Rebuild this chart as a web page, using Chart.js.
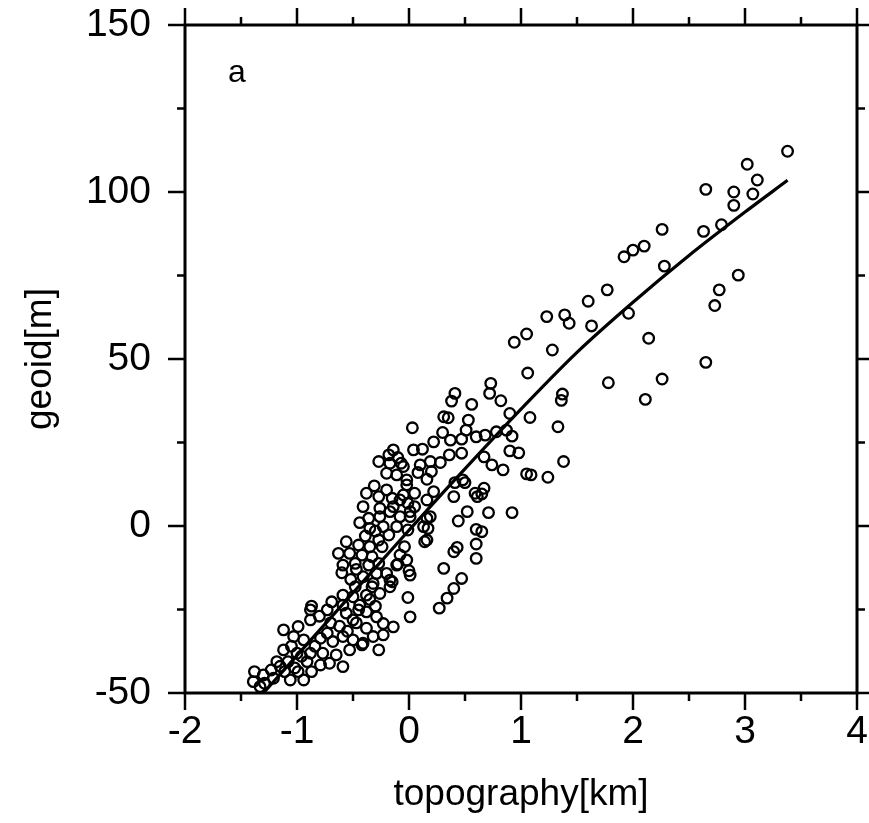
<!DOCTYPE html>
<html>
<head>
<meta charset="utf-8">
<script src="https://cdn.jsdelivr.net/npm/chart.js@4.4.1/dist/chart.umd.min.js"></script>
<style>
  html, body { margin: 0; padding: 0; background: #fff; }
  canvas { display: block; }
</style>
</head>
<body>
<canvas id="chart" width="869" height="823"></canvas>
<script>
// observed points: topography [km] vs geoid [m]
const topo = [
  3.38, 3.02, 3.11, 2.65, 2.90, 3.07, 2.90, 2.79, 2.63, 2.26, 2.10, 2.00, 1.92, 2.28, 1.77, 1.60,
  1.23, 1.39, 1.43, 1.63, 1.96, 2.94, 2.77, 2.73, 1.28, 2.14, 2.65, 1.78, 2.26, 2.11, 1.37, 1.36,
  1.05, 0.94, 1.06, 0.73, 0.72, 0.82, 0.56, 0.90, 1.08, 1.33, 0.53, 0.87, 0.92, 0.51, 0.68, 0.90,
  0.98, 0.67, 1.38, 0.84, 1.05, 1.09, 1.24, 0.48, 0.67, 0.59, 0.40, 0.65, 0.61, 0.52, 0.44, 0.71,
  0.92, 0.60, 0.60, 0.60, 0.43, 0.40, 0.31, 0.47, 0.40, 0.34, 0.27, 0.14, 0.17, 0.01, -0.01, 0.01,
  -0.02, 0.00, -0.10, 0.41, 0.38, 0.31, 0.35, 0.03, 0.04, 0.22, 0.37, 0.47, 0.36, 0.47, 0.10, -0.05,
  0.19, -0.02, 0.16, 0.41, 0.50, 0.05, 0.22, -0.01, 0.01, 0.19, -0.01, 0.16, -0.04, -0.14, -0.18, -0.07,
  -0.17, -0.27, -0.20, -0.11, 0.20, -0.38, -0.27, -0.15, -0.05, 0.16, -0.41, -0.26, -0.14, 0.05, -0.20, -0.08,
  -0.02, -0.36, -0.26, -0.17, -0.08, 0.01, -0.35, -0.23, -0.11, -0.18, -0.56, -0.45, -0.35, -0.24, -0.63, -0.53,
  -0.42, -0.33, -0.27, -0.59, -0.48, -0.36, -0.27, -0.08, -0.11, -0.41, -0.29, -0.17, -0.48, -0.33, -0.17, -0.59,
  -0.50, -0.38, -0.26, -0.87, -0.69, -0.59, -0.44, -0.88, -0.88, -0.73, -0.56, -0.45, -0.50, -0.38, -1.03, -0.94,
  -0.79, -0.73, -0.68, -0.59, -0.50, -0.41, -1.12, -1.00, -0.88, -0.77, -0.65, -0.53, -1.18, -1.08, -0.91, -0.79,
  -0.71, -0.59, -1.23, -1.11, -0.99, -0.87, -1.38, -1.30, -1.39, -1.29, -1.21, -1.06, -0.94, -1.33, -1.12, -0.99,
  -0.32, -0.20, -0.15, -0.29, -0.23, -0.14, -0.38, -0.32, -0.23, -0.42, -0.27, 0.16, 0.13, 0.60, 0.78, 0.74,
  0.65, -1.15, -1.02, -0.96, -0.84, -1.05, -0.62, -0.70, -0.80, -0.47, -0.55, -0.35, -0.30, -0.52, -0.60, -0.47,
  -0.39, -0.30, -0.44, -0.31, -0.10, 0.08, 0.28, 0.30, 0.12
];
const geoid = [
  112.2, 108.3, 103.6, 100.8, 100.0, 99.4, 96.0, 90.2, 88.2, 88.8, 83.8, 82.6, 80.6, 77.8, 70.7, 67.3,
  62.7, 63.2, 60.7, 59.9, 63.7, 75.1, 70.7, 66.0, 52.7, 56.2, 49.0, 42.9, 44.0, 37.9, 39.5, 37.6,
  57.5, 55.0, 45.8, 42.7, 39.7, 37.5, 36.4, 33.7, 32.5, 29.7, 31.7, 28.7, 26.9, 28.7, 27.2, 22.5,
  21.9, 20.7, 19.3, 16.8, 15.6, 15.3, 14.6, 13.8, 11.3, 9.8, 8.8, 9.6, 8.8, 4.3, 1.5, 4.0,
  4.0, -1.0, -5.4, -9.7, -6.4, -7.7, -12.7, -15.7, -18.7, -21.6, -24.6, -4.7, -0.7, -14.7, -21.4, -27.2,
  -10.2, -13.4, -11.4, 39.7, 37.4, 32.7, 32.4, 29.4, 22.8, 25.2, 25.7, 26.0, 21.3, 21.8, 18.3, 17.8,
  19.3, 13.8, 14.0, 13.0, 13.0, 9.8, 10.3, 6.8, 2.8, 2.8, -1.2, -4.2, -6.2, 22.8, 21.3, 18.8,
  18.8, 19.3, 15.8, 15.3, 16.3, 9.8, 8.8, 8.3, 9.3, 7.8, 5.8, 5.3, 5.8, 5.8, 10.8, 7.8,
  12.3, 2.3, 2.8, 4.3, 2.8, 4.3, -0.7, -0.2, -0.2, -2.7, -4.7, -5.7, -6.2, -6.2, -8.2, -8.2,
  -8.7, -9.2, -4.2, -11.7, -11.2, -11.7, -11.2, -8.7, -11.7, -15.2, -14.2, -16.2, -18.2, -18.2, -18.2, -20.7,
  -21.2, -20.7, -20.2, -24.0, -22.7, -23.7, -23.7, -25.1, -28.1, -25.1, -26.1, -25.1, -28.1, -25.7, -33.1, -34.1,
  -33.6, -32.1, -34.6, -33.1, -34.1, -35.1, -37.1, -38.1, -38.1, -38.1, -38.6, -37.1, -40.6, -40.6, -40.6, -41.6,
  -41.1, -42.1, -43.1, -43.6, -43.6, -43.6, -43.6, -44.6, -46.6, -47.1, -45.6, -46.1, -46.1, -48.1, -31.1, -30.1,
  -17.2, -14.2, -16.7, -27.2, -29.2, -30.2, -30.6, -33.1, -32.6, -35.6, -37.1, 2.3, -0.2, 26.7, 28.2, 18.3,
  -1.7, -42.0, -42.5, -39.0, -36.0, -36.0, -30.0, -29.0, -27.0, -29.0, -31.5, -22.0, -24.0, -16.0, -14.0, -13.0,
  -3.0, -1.5, 1.0, 12.0, 20.5, 16.0, 19.0, 28.0, 23.0
];

// fitted curve
const fitTopo = [-1.3, -0.9, -0.5, -0.1, 0.4, 1.0, 1.5, 2.0, 2.5, 3.0, 3.38];
const fitGeoid = [-50, -35, -20, -5, 13.5, 35, 52, 67, 81, 94, 103.5];

const xTicks = [-2, -1, 0, 1, 2, 3, 4];
const yTicks = [-50, 0, 50, 100, 150];

const FONT = "'Liberation Sans', Arial, Helvetica, sans-serif";

const points = topo.map((t, i) => ({ x: t, y: geoid[i] }));
const fit = fitTopo.map((t, i) => ({ x: t, y: fitGeoid[i] }));

// GMT style frame with major and minor ticks on all four sides
const frame = {
  id: 'frame',
  afterDraw(chart) {
    const { ctx, chartArea: a, scales: { x, y } } = chart;
    const major = 17, minor = 8;
    ctx.save();
    ctx.strokeStyle = '#000';
    ctx.lineCap = 'butt';
    ctx.lineWidth = 3;
    ctx.strokeRect(a.left, a.top, a.right - a.left, a.bottom - a.top);

    ctx.lineWidth = 2.5;
    const xs = [];
    for (let i = 0; i < xTicks.length; i++) {
      xs.push([xTicks[i], major]);
      if (i < xTicks.length - 1) xs.push([(xTicks[i] + xTicks[i + 1]) / 2, minor]);
    }
    const ys = [];
    for (let i = 0; i < yTicks.length; i++) {
      ys.push([yTicks[i], major]);
      if (i < yTicks.length - 1) ys.push([(yTicks[i] + yTicks[i + 1]) / 2, minor]);
    }
    ctx.beginPath();
    xs.forEach(([v, len]) => {
      const px = x.getPixelForValue(v);
      ctx.moveTo(px, a.bottom); ctx.lineTo(px, a.bottom + len);
      ctx.moveTo(px, a.top); ctx.lineTo(px, a.top - len);
    });
    ys.forEach(([v, len]) => {
      const py = y.getPixelForValue(v);
      ctx.moveTo(a.left, py); ctx.lineTo(a.left - len, py);
      ctx.moveTo(a.right, py); ctx.lineTo(a.right + len, py);
    });
    ctx.stroke();

    // panel letter
    ctx.fillStyle = '#000';
    ctx.font = '32px ' + FONT;
    ctx.textAlign = 'left';
    ctx.textBaseline = 'alphabetic';
    ctx.fillText('a', a.left + 43, a.top + 57);
    ctx.restore();
  }
};

new Chart(document.getElementById('chart'), {
  data: {
    datasets: [
      {
        type: 'scatter',
        data: points,
        pointStyle: 'circle',
        pointRadius: 5.3,
        pointBorderWidth: 2.3,
        pointBorderColor: '#000',
        pointBackgroundColor: 'rgba(0,0,0,0)',
        order: 2
      },
      {
        type: 'line',
        data: fit,
        borderColor: '#000',
        borderWidth: 3.2,
        pointRadius: 0,
        cubicInterpolationMode: 'monotone',
        fill: false,
        order: 1
      }
    ]
  },
  options: {
    responsive: false,
    animation: false,
    layout: { padding: { left: 0, right: 12, top: 25, bottom: 0 } },
    plugins: {
      legend: { display: false },
      tooltip: { enabled: false }
    },
    scales: {
      x: {
        type: 'linear',
        min: -2,
        max: 4,
        afterBuildTicks: (s) => { s.ticks = xTicks.map(v => ({ value: v })); },
        afterFit: (s) => { s.height = 130; },
        // invisible tick marks only space the labels; the frame plugin draws the real ones
        grid: { display: true, drawOnChartArea: false, drawTicks: true, tickLength: 16, tickColor: 'rgba(0,0,0,0)' },
        border: { display: false },
        ticks: {
          padding: 0,
          maxRotation: 0,
          autoSkip: false,
          color: '#000',
          font: { family: FONT, size: 39 }
        },
        title: {
          display: true,
          text: 'topography[km]',
          color: '#000',
          font: { family: FONT, size: 37, lineHeight: 1 },
          padding: { top: 0, bottom: 10 }
        }
      },
      y: {
        type: 'linear',
        min: -50,
        max: 150,
        afterBuildTicks: (s) => { s.ticks = yTicks.map(v => ({ value: v })); },
        afterFit: (s) => { s.width = 185; },
        grid: { display: true, drawOnChartArea: false, drawTicks: true, tickLength: 34, tickColor: 'rgba(0,0,0,0)' },
        border: { display: false },
        ticks: {
          padding: 0,
          autoSkip: false,
          color: '#000',
          font: { family: FONT, size: 39 }
        },
        title: {
          display: true,
          text: 'geoid[m]',
          color: '#000',
          font: { family: FONT, size: 37, lineHeight: 1 },
          padding: { top: 22, bottom: 0 }
        }
      }
    }
  },
  plugins: [frame]
});
</script>
</body>
</html>
